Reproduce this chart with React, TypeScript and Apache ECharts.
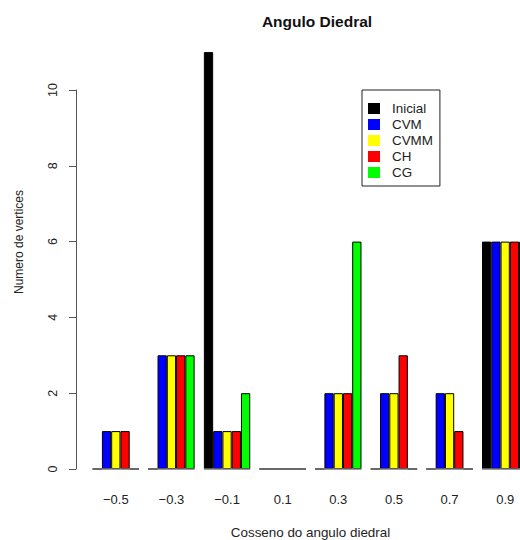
import React, { useEffect, useRef } from 'react';
import * as echarts from 'echarts';

const categories = ['\u22120.5', '\u22120.3', '\u22120.1', '0.1', '0.3', '0.5', '0.7', '0.9'];
const seriesNames = ['Inicial', 'CVM', 'CVMM', 'CH', 'CG'];
const inicial = [0, 0, 11, 0, 0, 0, 0, 6];
const cvm = [1, 3, 1, 0, 2, 2, 2, 6];
const cvmm = [1, 3, 1, 0, 2, 2, 2, 6];
const ch = [1, 3, 1, 0, 2, 3, 1, 6];
const cg = [0, 3, 2, 0, 6, 0, 0, 6];
const seriesValues = [inicial, cvm, cvmm, ch, cg];
const colors = ['#000000', '#0000ff', '#ffff00', '#ff0000', '#00ff00'];

const FONT = '"Liberation Sans", Arial, Helvetica, sans-serif';

export default function App() {
  const ref = useRef<HTMLDivElement>(null);
  useEffect(() => {
    if (!ref.current) return;
    const chart = echarts.init(ref.current, undefined, { renderer: 'svg' });
    const bars = seriesNames.map((name, k) => ({
      name,
      type: 'bar',
      data: seriesValues[k],
      barGap: '0%',
      barCategoryGap: '16.67%',
      clip: false,
      itemStyle: { color: colors[k], borderColor: '#000', borderWidth: 1 },
      emphasis: { disabled: true },
      z: 2,
    }));
    chart.setOption({
      animation: false,
      textStyle: { fontFamily: FONT },
      title: {
        text: 'Angulo Diedral',
        left: 312,
        top: 8,
        textAlign: 'center',
        textStyle: { fontFamily: FONT, fontSize: 15.5, fontWeight: 'bold', color: '#111' },
      },
      legend: {
        data: seriesNames,
        orient: 'vertical',
        left: 362,
        top: 90,
        padding: [12, 7, 7, 6],
        itemWidth: 12,
        itemHeight: 11,
        itemGap: 3,
        icon: 'rect',
        borderColor: '#222',
        borderWidth: 1,
        itemStyle: { borderWidth: 0 },
        textStyle: { fontFamily: FONT, fontSize: 13.4, color: '#222', padding: [0, 0, 0, 7] },
        selectedMode: false,
      },
      grid: { left: 88, right: 27, top: 90, bottom: 71, outerBoundsMode: 'none', containLabel: false },
      xAxis: {
        type: 'category',
        data: categories,
        axisLine: { show: false },
        axisTick: { show: false },
        axisLabel: { margin: 24, fontSize: 13, color: '#222', fontFamily: FONT },
        name: 'Cosseno do angulo diedral',
        nameLocation: 'middle',
        nameGap: 57,
        nameTextStyle: { fontSize: 13.4, color: '#222', fontFamily: FONT },
      },
      yAxis: {
        type: 'value',
        min: 0,
        max: 10,
        interval: 2,
        offset: 12,
        axisLine: { show: true, lineStyle: { color: '#555', width: 1 } },
        axisTick: { show: true, length: 7, lineStyle: { color: '#555', width: 1 } },
        axisLabel: { rotate: 90, margin: 17, fontSize: 12.5, color: '#222', fontFamily: FONT },
        splitLine: { show: false },
      },
      graphic: [
        {
          type: 'text',
          x: 19,
          y: 242,
          rotation: Math.PI / 2,
          style: {
            text: 'Numero de vertices',
            fontFamily: FONT,
            fontSize: 12,
            fill: '#222',
            align: 'center',
            verticalAlign: 'middle',
          },
        },
      ],
      series: [
        ...bars,
        {
          type: 'custom',
          data: categories.map((_, i) => [i, 0]),
          encode: { x: 0, y: 1 },
          silent: true,
          z: 5,
          renderItem: (params: any, api: any) => {
            const p = api.coord([api.value(0), 0]);
            const half = (api.size([1, 0])[0] * 5) / 12;
            return {
              type: 'line',
              shape: { x1: p[0] - half, y1: p[1], x2: p[0] + half, y2: p[1] },
              style: { stroke: '#777', lineWidth: 1.5 },
            };
          },
        },
      ],
    });
    return () => chart.dispose();
  }, []);
  return (
    <div style={{ position: 'absolute', left: 0, top: 0, width: 520, height: 540, overflow: 'hidden', background: '#fff' }}>
      <div ref={ref} style={{ width: 560, height: 540 }} />
    </div>
  );
}
